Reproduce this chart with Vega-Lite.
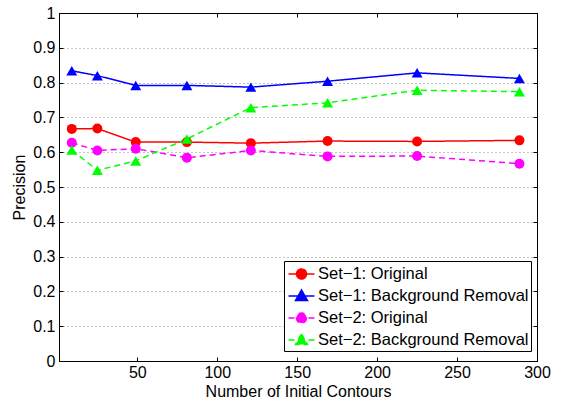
{
  "$schema": "https://vega.github.io/schema/vega-lite/v6.json",
  "width": 478,
  "height": 348,
  "autosize": {"type": "none"},
  "padding": {"left": 59, "top": 13, "right": 25, "bottom": 39},
  "background": "white",
  "config": {
    "view": {"stroke": "black", "strokeWidth": 1},
    "font": "Liberation Sans",
    "axis": {
      "labelFont": "Liberation Sans",
      "titleFont": "Liberation Sans",
      "labelFontSize": 16,
      "titleFontSize": 16,
      "titleFontWeight": "normal",
      "labelColor": "black",
      "titleColor": "black",
      "domainColor": "black",
      "tickColor": "black",
      "tickSize": -4,
      "tickWidth": 1,
      "labelFlush": false
    },
    "legend": {
      "orient": "none",
      "legendX": 225,
      "legendY": 248,
      "strokeColor": "black",
      "fillColor": "white",
      "padding": 2,
      "labelFont": "Liberation Sans",
      "labelFontSize": 16.5,
      "labelColor": "black",
      "labelLimit": 400,
      "labelOffset": 10,
      "rowPadding": 2,
      "symbolSize": 400,
      "symbolStrokeWidth": 1.5,
      "symbolOpacity": 1
    }
  },
  "data": {
    "values": [
      {"x": 9, "series": "Set−1: Original", "p": 0.667},
      {"x": 25, "series": "Set−1: Original", "p": 0.668},
      {"x": 49, "series": "Set−1: Original", "p": 0.629},
      {"x": 81, "series": "Set−1: Original", "p": 0.629},
      {"x": 121, "series": "Set−1: Original", "p": 0.626},
      {"x": 169, "series": "Set−1: Original", "p": 0.632},
      {"x": 225, "series": "Set−1: Original", "p": 0.631},
      {"x": 289, "series": "Set−1: Original", "p": 0.634},
      {"x": 9, "series": "Set−1: Background Removal", "p": 0.834},
      {"x": 25, "series": "Set−1: Background Removal", "p": 0.820},
      {"x": 49, "series": "Set−1: Background Removal", "p": 0.792},
      {"x": 81, "series": "Set−1: Background Removal", "p": 0.792},
      {"x": 121, "series": "Set−1: Background Removal", "p": 0.787},
      {"x": 169, "series": "Set−1: Background Removal", "p": 0.804},
      {"x": 225, "series": "Set−1: Background Removal", "p": 0.828},
      {"x": 289, "series": "Set−1: Background Removal", "p": 0.812},
      {"x": 9, "series": "Set−2: Original", "p": 0.627},
      {"x": 25, "series": "Set−2: Original", "p": 0.605},
      {"x": 49, "series": "Set−2: Original", "p": 0.610},
      {"x": 81, "series": "Set−2: Original", "p": 0.584},
      {"x": 121, "series": "Set−2: Original", "p": 0.605},
      {"x": 169, "series": "Set−2: Original", "p": 0.588},
      {"x": 225, "series": "Set−2: Original", "p": 0.589},
      {"x": 289, "series": "Set−2: Original", "p": 0.567},
      {"x": 9, "series": "Set−2: Background Removal", "p": 0.606},
      {"x": 25, "series": "Set−2: Background Removal", "p": 0.548},
      {"x": 49, "series": "Set−2: Background Removal", "p": 0.575},
      {"x": 81, "series": "Set−2: Background Removal", "p": 0.638},
      {"x": 121, "series": "Set−2: Background Removal", "p": 0.728},
      {"x": 169, "series": "Set−2: Background Removal", "p": 0.742},
      {"x": 225, "series": "Set−2: Background Removal", "p": 0.778},
      {"x": 289, "series": "Set−2: Background Removal", "p": 0.774}
    ]
  },
  "encoding": {
    "color": {
      "field": "series",
      "type": "nominal",
      "scale": {
        "domain": ["Set−1: Original", "Set−1: Background Removal", "Set−2: Original", "Set−2: Background Removal"],
        "range": ["#ff0000", "#0000ff", "#ff00ff", "#00ff00"]
      },
      "legend": {"title": null}
    }
  },
  "layer": [
    {
      "mark": {"type": "line", "strokeWidth": 1.5},
      "encoding": {
        "x": {
          "field": "x",
          "type": "quantitative",
          "scale": {"domain": [1, 300], "nice": false, "zero": false},
          "axis": {
            "orient": "bottom",
            "values": [50, 100, 150, 200, 250, 300],
            "title": "Number of Initial Contours",
            "grid": false,
            "labelPadding": 7,
            "titlePadding": 3
          }
        },
        "y": {
          "field": "p",
          "type": "quantitative",
          "scale": {"domain": [0, 1], "nice": false},
          "axis": {
            "orient": "left",
            "values": [0, 0.1, 0.2, 0.3, 0.4, 0.5, 0.6, 0.7, 0.8, 0.9, 1],
            "format": "~g",
            "title": "Precision",
            "grid": true,
            "gridDash": [1, 3],
            "gridColor": "#888888",
            "gridWidth": 1,
            "labelPadding": 8,
            "titlePadding": 5
          }
        },
        "strokeDash": {
          "field": "series",
          "type": "nominal",
          "scale": {
            "domain": ["Set−1: Original", "Set−1: Background Removal", "Set−2: Original", "Set−2: Background Removal"],
            "range": [[1, 0], [1, 0], [6, 4], [6, 4]]
          },
          "legend": {"title": null}
        }
      }
    },
    {
      "transform": [{"filter": "indexof(datum.series, 'Original') >= 0"}],
      "mark": {"type": "point", "shape": "circle", "filled": true, "opacity": 1, "size": 100},
      "encoding": {
        "x": {
          "field": "x",
          "type": "quantitative",
          "axis": {
            "orient": "top",
            "values": [50, 100, 150, 200, 250, 300],
            "labels": false,
            "title": null,
            "grid": false
          }
        },
        "y": {
          "field": "p",
          "type": "quantitative",
          "axis": {
            "orient": "right",
            "values": [0, 0.1, 0.2, 0.3, 0.4, 0.5, 0.6, 0.7, 0.8, 0.9, 1],
            "labels": false,
            "title": null,
            "grid": false
          }
        }
      }
    },
    {
      "transform": [{"filter": "indexof(datum.series, 'Background') >= 0"}],
      "mark": {"type": "point", "shape": "triangle-up", "filled": true, "opacity": 1, "size": 120},
      "encoding": {
        "x": {"field": "x", "type": "quantitative", "axis": null},
        "y": {"field": "p", "type": "quantitative", "axis": null}
      }
    },
    {
      "mark": {"type": "point", "filled": true, "opacity": 0, "size": 1},
      "encoding": {
        "x": {"field": "x", "type": "quantitative", "axis": null},
        "y": {"field": "p", "type": "quantitative", "axis": null},
        "shape": {
          "field": "series",
          "type": "nominal",
          "scale": {
            "domain": ["Set−1: Original", "Set−1: Background Removal", "Set−2: Original", "Set−2: Background Removal"],
            "range": [
              "M-0.85,0H1.75M0.95,0A0.5,0.5 0 1 1 -0.05,0A0.5,0.5 0 1 1 0.95,0Z",
              "M-0.85,0H1.75M0.45,-0.6L1.05,0.45L-0.15,0.45Z",
              "M-0.85,0H1.75M0.95,0A0.5,0.5 0 1 1 -0.05,0A0.5,0.5 0 1 1 0.95,0Z",
              "M-0.85,0H1.75M0.45,-0.6L1.05,0.45L-0.15,0.45Z"
            ]
          },
          "legend": {"title": null}
        }
      }
    }
  ],
  "resolve": {"axis": {"x": "independent", "y": "independent"}}
}
